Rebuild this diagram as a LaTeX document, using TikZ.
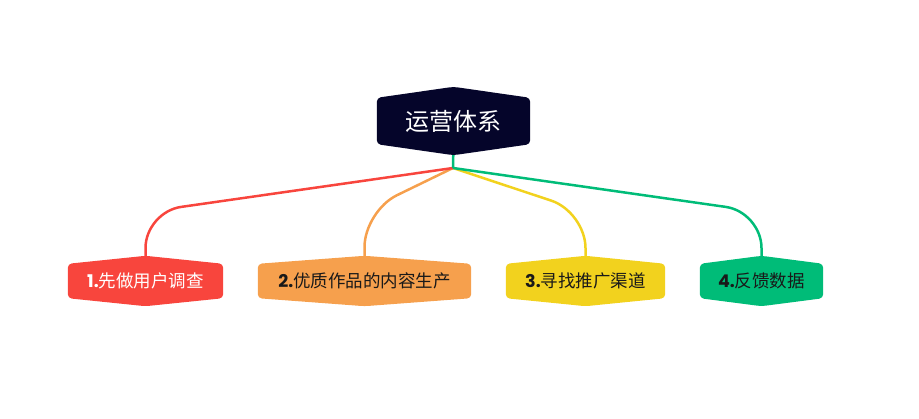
\documentclass[tikz,border=0pt]{standalone}
\usepackage{fontspec}
\setmainfont{Noto Sans CJK SC}
\newfontfamily\numfont{Poppins}
\usetikzlibrary{calc,backgrounds}
\definecolor{cnavy}{HTML}{05052A}
\definecolor{cred}{HTML}{F8453D}
\definecolor{corange}{HTML}{F6A04D}
\definecolor{cyellow}{HTML}{F2D21E}
\definecolor{cgreen}{HTML}{00BC78}
\tikzset{
  rootbox/.style={minimum height=46pt,minimum width=153pt,inner sep=0pt,text=white,font=\fontsize{24}{24}\selectfont},
  subbox/.style={minimum height=34pt,inner sep=0pt,text=black!90,font=\fontsize{17.5}{17.5}\selectfont},
  conn/.style={line width=2.5pt,rounded corners=36pt}
}
\newcommand\hexfill[3]{\fill[#2,rounded corners=4pt] (#1.north west) -- ($(#1.north)+(0,#3)$) -- (#1.north east) -- (#1.south east) -- ($(#1.south)+(0,-#3)$) -- (#1.south west) -- cycle;}
\newcommand\num[1]{{\numfont\bfseries #1}}

\begin{document}
\begin{tikzpicture}[x=1pt,y=-1pt]
\useasboundingbox (0,0) rectangle (919,418);
\node[rootbox] (root) at (453.5,121) {运营体系};
\node[subbox,minimum width=155pt,text=white] (survey) at (145.5,281) {\num{1.}先做用户调查};
\node[subbox,minimum width=213pt] (content) at (364.5,281) {\num{2.}优质作品的内容生产};
\node[subbox,minimum width=159pt] (channel) at (585.5,281) {\num{3.}寻找推广渠道};
\node[subbox,minimum width=123pt] (feedback) at (761.5,281) {\num{4.}反馈数据};
\coordinate (hub) at (453,168);
\begin{scope}[on background layer]
% branches
\draw[conn,cyellow] (hub) -- (channel.north |- 0,212) -- (channel.north);
\draw[conn,corange] (hub) -- (content.north |- 0,211) -- (content.north);
\draw[conn,cred] (hub) -- (survey.north |- 0,212) -- (survey.north);
\draw[conn,cgreen] (hub) -- (feedback.north |- 0,212) -- (feedback.north);
\draw[line width=2.5pt,cgreen] (root.south) -- (hub);
% boxes
\hexfill{root}{cnavy}{11pt}
\hexfill{survey}{cred}{8pt}
\hexfill{content}{corange}{8pt}
\hexfill{channel}{cyellow}{8pt}
\hexfill{feedback}{cgreen}{8pt}
\end{scope}
\end{tikzpicture}
\end{document}
